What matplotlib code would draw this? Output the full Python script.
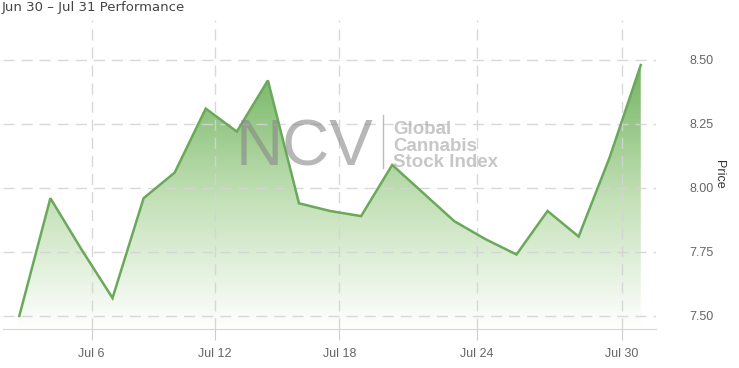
import numpy as np
import matplotlib
matplotlib.use("Agg")
import matplotlib.pyplot as plt
from matplotlib.colors import LinearSegmentedColormap

# one point per session, drawn on an ordinal (index) axis
prices = [7.50, 7.96, 7.76, 7.57, 7.96, 8.06, 8.31, 8.22, 8.42, 7.94, 7.91,
          7.89, 8.09, 7.98, 7.87, 7.80, 7.74, 7.91, 7.81, 8.12, 8.48]
tick_labels = ["Jul 6", "Jul 12", "Jul 18", "Jul 24", "Jul 30"]
tick_index = [2.33, 6.30, 10.30, 14.73, 19.40]
y_ticks = [7.50, 7.75, 8.00, 8.25, 8.50]

W, H = 739, 368
fig = plt.figure(figsize=(W / 100, H / 100), dpi=100)
ax = fig.add_axes([3 / W, 1 - 329 / H, 653 / W, 309 / H])

x = np.arange(len(prices))
ymin, ymax = 7.449, 8.656
ax.set_xlim(-0.525, len(prices) - 0.51)
ax.set_ylim(ymin, ymax)

# gradient fill under the line
poly = ax.fill_between(x, prices, ymin, color="none", lw=0)
cmap = LinearSegmentedColormap.from_list("g", ["#ffffff", "#c2e0b6", "#74b562"])
grad = np.linspace(0, 1, 256).reshape(-1, 1)
im = ax.imshow(grad, cmap=cmap, aspect="auto", origin="lower",
               extent=[x[0], x[-1], ymin, max(prices)], zorder=1)
im.set_clip_path(poly.get_paths()[0], transform=ax.transData)
ax.plot(x, prices, color="#6aa95a", lw=1.8, zorder=3, solid_joinstyle="miter")

# grid
ax.set_axisbelow(False)
ax.grid(True, color="#d4d4d4", ls=(0, (8, 5)), lw=1, zorder=2, alpha=0.9)
for s in ["top", "left", "right"]:
    ax.spines[s].set_visible(False)
ax.spines["bottom"].set_color("#ccd6eb")
ax.spines["bottom"].set_zorder(4)

ax.set_xticks(tick_index)
ax.set_xticklabels(tick_labels, fontsize=9, color="#666666", family="Liberation Sans")
ax.tick_params(axis="x", length=8, color="#cccccc", pad=6)
ax.set_yticks(y_ticks)
ax.yaxis.tick_right()
ax.set_yticklabels([f"{v:.2f}" for v in y_ticks], fontsize=9, color="#666666",
                   family="Liberation Sans")
ax.tick_params(axis="y", length=0, pad=24)
ax.yaxis.set_label_position("right")
ax.set_ylabel("Price", rotation=270, fontsize=9, color="#333333",
              family="Liberation Sans", labelpad=8)

fig.text(2 / W, 1 - 8 / H, "Jun 30 \u2013 Jul 31 Performance", fontsize=9.5,
         color="#444444", va="center", ha="left", family="DejaVu Sans")

# watermark
fig.text(236 / W, 1 - 165 / H, "NCV", fontsize=47, color="#888888", alpha=0.6,
         family="Liberation Sans", ha="left", va="baseline", zorder=10)
fig.add_artist(plt.Line2D([383 / W, 383 / W], [1 - 115 / H, 1 - 168 / H],
                          color="#bbbbbb", lw=1, zorder=10))
fig.text(393 / W, 1 - 167 / H, "Global\nCannabis\nStock Index", fontsize=13.5,
         color="#999999", alpha=0.55, fontweight="bold", family="Liberation Sans",
         ha="left", va="baseline", linespacing=0.95, zorder=10)

fig.savefig("out.png", dpi=100)
